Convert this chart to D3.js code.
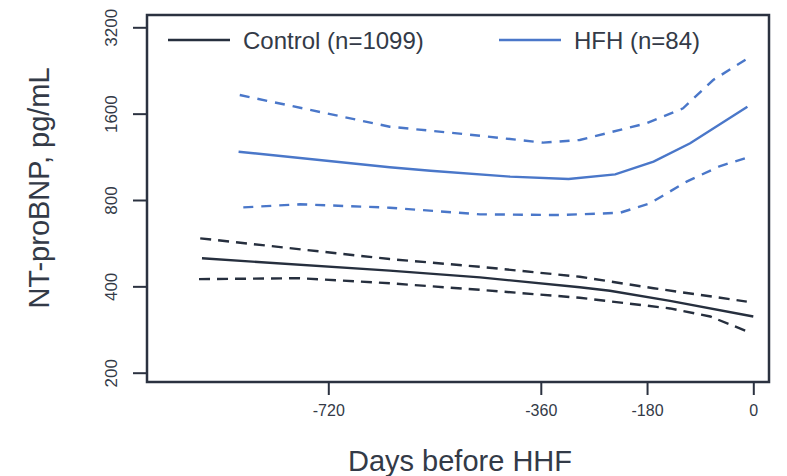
<!DOCTYPE html>
<html>
<head>
<meta charset="utf-8">
<script src="https://cdn.jsdelivr.net/npm/d3@7/dist/d3.min.js"></script>
<style>
  html, body { margin: 0; padding: 0; background: #fff; }
  svg { display: block; font-family: "Liberation Sans", Arial, sans-serif; }
</style>
</head>
<body>
<svg id="chart" width="787" height="476"></svg>
<script>
// NT-proBNP trajectories (pg/mL) by days before HHF
const controlDays  = [-934, -616, -463, -294, -243, -141, 0];
const controlMean  = [501, 454, 430, 397, 386, 356, 314];
const controlUpDays = [-937, -616, -463, -294, -169, -11];
const controlUpper = [588, 498, 468, 432, 394, 354];
const controlLoDays = [-939, -768, -616, -463, -294, -141, -73, -11];
const controlLower = [424, 427, 410, 389, 365, 335, 314, 279];

const hfhDays  = [-872, -616, -547, -412, -313, -234, -169, -107, -10];
const hfhMean  = [1179, 1040, 1012, 965, 947, 983, 1088, 1261, 1690];
const hfhUpDays = [-870, -616, -491, -356, -294, -181, -119, -68, -12];
const hfhUpper = [1858, 1441, 1359, 1268, 1295, 1481, 1670, 2096, 2474];
const hfhLoDays = [-864, -768, -616, -463, -327, -226, -175, -113, -56, -14];
const hfhLower = [754, 773, 752, 713, 709, 722, 779, 927, 1051, 1118];

const xTicks = [-720, -360, -180, 0];
const yTicks = [200, 400, 800, 1600, 3200];

const legendLabels = ["Control (n=1099)", "HFH (n=84)"];
const dark = "#262f3e";
const blue = "#4a77c9";
const axisColor = "#2b3240";
const textColor = "#333a47";

const svg = d3.select("#chart");
const box = { left: 147, top: 15, right: 769, bottom: 382 };

const x = d3.scaleLinear().domain([-720, 0]).range([328.3, 753.3]);
const y = d3.scaleLog().base(2).domain([200, 3200]).range([372.7, 27.3]);

// frame
svg.append("rect")
  .attr("x", box.left).attr("y", box.top)
  .attr("width", box.right - box.left).attr("height", box.bottom - box.top)
  .attr("fill", "none").attr("stroke", axisColor).attr("stroke-width", 2.5);

// x axis
const xAxis = svg.append("g").attr("transform", `translate(0,${box.bottom})`)
  .call(d3.axisBottom(x).tickValues(xTicks).tickSize(13).tickSizeOuter(0).tickPadding(10)
    .tickFormat(d => String(d)));
xAxis.select(".domain").remove();
xAxis.selectAll("line").attr("stroke", axisColor).attr("stroke-width", 2);
xAxis.selectAll("text").attr("fill", textColor).attr("font-size", 16)
  .attr("font-family", "Liberation Sans, Arial, sans-serif");

// y axis, labels turned vertical
const yAxis = svg.append("g").attr("transform", `translate(${box.left},0)`)
  .call(d3.axisLeft(y).tickValues(yTicks).tickSize(14).tickSizeOuter(0)
    .tickFormat(d => String(d)));
yAxis.select(".domain").remove();
yAxis.selectAll("line").attr("stroke", axisColor).attr("stroke-width", 2);
yAxis.selectAll("text")
  .attr("fill", textColor).attr("font-size", 17)
  .attr("font-family", "Liberation Sans, Arial, sans-serif")
  .attr("text-anchor", "middle")
  .attr("x", 0).attr("dy", 0)
  .attr("transform", "translate(-35,0) rotate(-90)")
  .attr("y", 5);

// axis titles
svg.append("text")
  .attr("x", 460).attr("y", 471)
  .attr("text-anchor", "middle")
  .attr("font-size", 29).attr("fill", textColor)
  .text("Days before HHF");

svg.append("text")
  .attr("transform", "translate(49,188) rotate(-90)")
  .attr("text-anchor", "middle")
  .attr("font-size", 29).attr("fill", textColor)
  .text("NT-proBNP, pg/mL");

// curves: confidence bounds dashed, means solid
const line = d3.line().x(d => x(d[0])).y(d => y(d[1]));
const zip = (a, b) => a.map((v, i) => [v, b[i]]);

const curves = [
  { days: controlUpDays, vals: controlUpper, color: dark, dash: "11,7" },
  { days: controlLoDays, vals: controlLower, color: dark, dash: "11,7" },
  { days: controlDays, vals: controlMean, color: dark, dash: null },
  { days: hfhUpDays, vals: hfhUpper, color: blue, dash: "10,8" },
  { days: hfhLoDays, vals: hfhLower, color: blue, dash: "10,8" },
  { days: hfhDays, vals: hfhMean, color: blue, dash: null }
];

svg.append("g").selectAll("path").data(curves).join("path")
  .attr("d", c => line(zip(c.days, c.vals)))
  .attr("fill", "none")
  .attr("stroke", c => c.color)
  .attr("stroke-width", 2.4)
  .attr("stroke-dasharray", c => c.dash);

// legend
const legend = [
  { label: legendLabels[0], color: dark, x0: 168 },
  { label: legendLabels[1], color: blue, x0: 499 }
];
const lg = svg.append("g").selectAll("g").data(legend).join("g")
  .attr("transform", d => `translate(${d.x0},40)`);
lg.append("line").attr("x1", 0).attr("x2", 62).attr("y1", 0).attr("y2", 0)
  .attr("stroke", d => d.color).attr("stroke-width", 2.4);
lg.append("text").attr("x", 75).attr("y", 9)
  .attr("font-size", 24).attr("fill", textColor)
  .text(d => d.label);
</script>
</body>
</html>
